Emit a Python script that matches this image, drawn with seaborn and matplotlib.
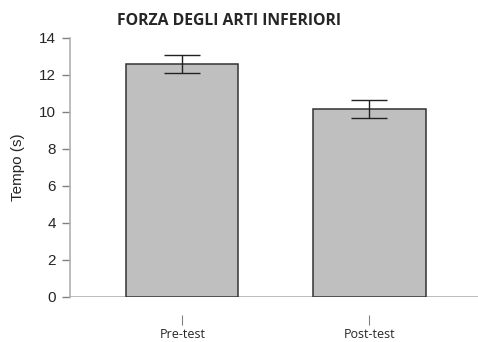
import pandas as pd
import seaborn as sns
import matplotlib.pyplot as plt

# Dati
fasi = ["Pre-test", "Post-test"]
tempo_medio = [12.58, 10.16]
errore = [0.49, 0.48]

df = pd.DataFrame({"Fase": fasi, "Tempo": tempo_medio})

sns.set_style("white")
plt.rcParams["font.family"] = ["Liberation Sans", "DejaVu Sans"]

fig = plt.figure(figsize=(4.78, 3.42), dpi=100)
ax = fig.add_axes([0.1464, 0.1316, 0.8536, 0.7573])

sns.barplot(data=df, x="Fase", y="Tempo", color="#bfbfbf", edgecolor="#333333",
            linewidth=1.1, width=0.6, errorbar=None, saturation=1, ax=ax)
ax.errorbar(range(len(fasi)), tempo_medio, yerr=errore, fmt="none",
            ecolor="#222222", elinewidth=1.0, capsize=13, capthick=1.0)

ax.set_xlim(-0.6, 1.58)
ax.set_ylim(0, 14)
ax.set_yticks(range(0, 15, 2))
ax.axhline(0, color="#b0b0b0", linewidth=1.2, zorder=0.5)

for s in ["top", "right"]:
    ax.spines[s].set_visible(False)
ax.spines["left"].set_color("#b0b0b0")
ax.spines["left"].set_linewidth(1.2)
ax.spines["bottom"].set_position(("outward", 13))
ax.spines["bottom"].set_visible(False)

ax.tick_params(axis="y", direction="out", length=6, width=1, color="#808080",
               labelsize=11, pad=4, left=True)
ax.tick_params(axis="x", direction="out", length=7, width=0.8, color="#808080",
               labelsize=9, pad=2, bottom=True)
for lab in ax.get_xticklabels():
    lab.set_family(["Open Sans", "DejaVu Sans"])

ax.set_xlabel("")
ax.set_ylabel("Tempo (s)", fontsize=11, labelpad=10)

fig.text(0.245, 0.94, "FORZA DEGLI ARTI INFERIORI", fontsize=11.3, fontweight="bold",
         family=["Open Sans", "DejaVu Sans"], ha="left", va="center")

fig.savefig("out.png", dpi=100)
